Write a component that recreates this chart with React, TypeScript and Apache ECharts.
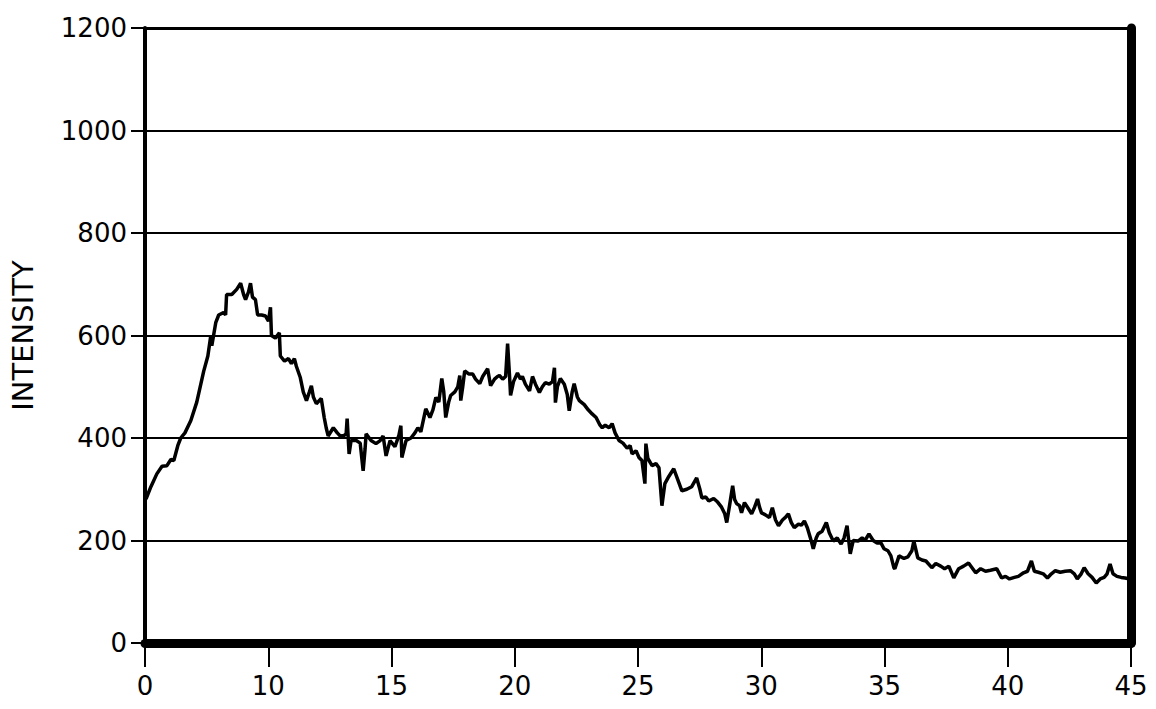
import React, { useEffect, useRef } from "react";
import * as echarts from "echarts";

const xTickLabels: string[] = ["0", "10", "15", "20", "25", "30", "35", "40", "45"];
const yTickValues: number[] = [0, 200, 400, 600, 800, 1000, 1200];

const twoTheta: number[] = [
  5.04, 5.24, 5.48, 5.69, 5.89, 6.05, 6.17, 6.33, 6.45, 6.62, 6.86, 7.10, 7.38, 7.55, 7.67, 7.71, 7.87, 7.99,
  8.19, 8.27, 8.31, 8.52, 8.72, 8.88, 9.00, 9.08, 9.20, 9.28, 9.36, 9.48, 9.57, 9.73, 9.89, 10.01, 10.09, 10.13,
  10.29, 10.45, 10.49, 10.66, 10.82, 10.94, 11.06, 11.14, 11.30, 11.42, 11.55, 11.67, 11.75, 11.83, 11.95, 12.15,
  12.27, 12.35, 12.43, 12.64, 12.80, 12.92, 13.08, 13.16, 13.20, 13.28, 13.36, 13.57, 13.73, 13.85, 13.93, 13.97,
  14.17, 14.37, 14.54, 14.66, 14.78, 14.94, 15.14, 15.30, 15.38, 15.42, 15.59, 15.79, 15.95, 16.07, 16.19, 16.39,
  16.56, 16.68, 16.80, 16.92, 17.04, 17.12, 17.20, 17.32, 17.40, 17.57, 17.69, 17.77, 17.81, 17.89, 17.97, 18.13,
  18.29, 18.41, 18.58, 18.70, 18.90, 19.02, 19.18, 19.30, 19.38, 19.51, 19.63, 19.71, 19.79, 19.83, 19.95, 20.11,
  20.23, 20.31, 20.43, 20.60, 20.72, 20.84, 21.00, 21.12, 21.24, 21.40, 21.53, 21.61, 21.65, 21.73, 21.85, 22.01,
  22.13, 22.21, 22.33, 22.41, 22.54, 22.62, 22.82, 22.98, 23.14, 23.30, 23.46, 23.55, 23.67, 23.83, 23.95, 24.07,
  24.23, 24.39, 24.56, 24.68, 24.76, 24.92, 25.04, 25.16, 25.28, 25.32, 25.40, 25.57, 25.73, 25.85, 25.97, 26.09,
  26.25, 26.45, 26.62, 26.78, 26.98, 27.18, 27.38, 27.51, 27.59, 27.75, 27.87, 28.07, 28.23, 28.39, 28.52, 28.60,
  28.72, 28.84, 28.92, 29.00, 29.12, 29.20, 29.32, 29.48, 29.61, 29.73, 29.85, 29.93, 30.01, 30.17, 30.33, 30.45,
  30.58, 30.70, 30.86, 30.98, 31.10, 31.22, 31.34, 31.51, 31.63, 31.75, 31.87, 32.03, 32.11, 32.23, 32.31, 32.47,
  32.64, 32.76, 32.92, 33.08, 33.24, 33.36, 33.48, 33.61, 33.73, 33.93, 34.09, 34.21, 34.37, 34.54, 34.70, 34.86,
  34.98, 35.14, 35.26, 35.38, 35.42, 35.59, 35.79, 35.95, 36.11, 36.19, 36.35, 36.52, 36.68, 36.92, 37.08, 37.28,
  37.44, 37.61, 37.81, 38.01, 38.21, 38.41, 38.58, 38.70, 38.90, 39.10, 39.30, 39.55, 39.75, 39.91, 40.07, 40.27,
  40.43, 40.64, 40.80, 40.96, 41.08, 41.24, 41.44, 41.61, 41.77, 41.93, 42.13, 42.33, 42.54, 42.70, 42.82, 42.98,
  43.10, 43.26, 43.42, 43.59, 43.75, 43.91, 44.03, 44.15, 44.27, 44.43, 44.60, 44.76, 44.96,
];

const intensity: number[] = [
  281, 305, 330, 345, 346, 358, 356, 385, 400, 410, 434, 470, 530, 560, 600, 580, 625, 640,
  645, 640, 680, 680, 690, 702, 680, 670, 685, 702, 675, 670, 640, 640, 638, 628, 655, 600,
  595, 605, 560, 550, 555, 545, 555, 540, 518, 490, 473, 490, 502, 480, 467, 477,
  440, 420, 404, 420, 410, 404, 405, 408, 438, 369, 395, 395, 390, 336, 380, 408,
  395, 389, 395, 404, 365, 395, 383, 405, 424, 362, 395, 400, 410, 420, 412, 457,
  440, 455, 479, 470, 516, 490, 440, 470, 483, 490, 500, 522, 473, 500, 531, 525,
  525, 515, 506, 520, 535, 502, 515, 520, 522, 515, 520, 584, 520, 483, 510, 527,
  515, 520, 505, 492, 520, 505, 489, 500, 508, 505, 510, 537, 469, 500, 516, 505,
  485, 453, 490, 506, 480, 473, 465, 455, 447, 440, 425, 420, 425, 420, 428, 410,
  395, 390, 380, 385, 369, 375, 362, 356, 311, 389, 360, 346, 350, 342, 268, 311,
  325, 340, 318, 297, 300, 305, 322, 300, 283, 285, 277, 282, 275, 265, 252, 235,
  270, 307, 280, 272, 268, 254, 274, 262, 252, 265, 281, 265, 254, 250, 245, 264,
  240, 229, 240, 245, 252, 235, 225, 232, 230, 238, 225, 199, 184, 205, 213, 218,
  235, 215, 199, 205, 193, 205, 229, 174, 200, 199, 205, 200, 213, 200, 195, 195,
  184, 180, 170, 147, 145, 170, 165, 168, 180, 199, 166, 162, 160, 147, 155, 150,
  145, 150, 127, 145, 150, 156, 145, 137, 145, 140, 142, 145, 127, 130, 125, 128,
  130, 137, 140, 160, 140, 138, 135, 127, 135, 141, 138, 140, 141, 135, 125, 135,
  147, 135, 128, 117, 125, 128, 135, 154, 135, 130, 128, 127, 125,
];

const FONT = "DejaVu Sans";

export default function App() {
  const ref = useRef<HTMLDivElement>(null);
  useEffect(() => {
    document.body.style.margin = "0";
    if (!ref.current) return;
    const chart = echarts.init(ref.current, null, { renderer: "svg" });
    const data = twoTheta.map((x, i) => [x, intensity[i]]);
    chart.setOption({
      animation: false,
      backgroundColor: "#ffffff",
      grid: { left: 141, right: 25, top: 28, bottom: 66, containLabel: false },
      xAxis: [
        {
          type: "value",
          min: 5,
          max: 45,
          interval: 5,
          position: "bottom",
          axisLine: { show: true, onZero: false, lineStyle: { color: "#000", width: 9 } },
          axisTick: { show: true, length: 24, lineStyle: { color: "#000", width: 2 } },
          splitLine: { show: false },
          axisLabel: {
            margin: 30,
            color: "#000",
            fontFamily: FONT,
            fontSize: 26,
            formatter: (v: number) => xTickLabels[Math.round((v - 5) / 5)] ?? "",
          },
        },
        {
          type: "value",
          min: 5,
          max: 45,
          position: "top",
          axisLine: { show: true, onZero: false, lineStyle: { color: "#000", width: 3 } },
          axisTick: { show: false },
          axisLabel: { show: false },
          splitLine: { show: false },
        },
      ],
      yAxis: [
        {
          type: "value",
          min: 0,
          max: 1200,
          interval: 200,
          position: "left",
          name: "INTENSITY",
          nameLocation: "middle",
          nameRotate: 90,
          nameGap: 108,
          nameTextStyle: { color: "#000", fontFamily: FONT, fontSize: 29 },
          axisLine: { show: true, onZero: false, lineStyle: { color: "#000", width: 4 } },
          axisTick: { show: true, length: 14, lineStyle: { color: "#000", width: 2 } },
          splitLine: { show: true, lineStyle: { color: "#000", width: 2 } },
          axisLabel: {
            margin: 18,
            color: "#000",
            fontFamily: FONT,
            fontSize: 26,
            formatter: (v: number) => (yTickValues.includes(v) ? String(v) : ""),
          },
        },
        {
          type: "value",
          min: 0,
          max: 1200,
          position: "right",
          axisLine: { show: true, onZero: false, lineStyle: { color: "#000", width: 9 } },
          axisTick: { show: false },
          axisLabel: { show: false },
          splitLine: { show: false },
        },
      ],
      series: [
        {
          type: "line",
          data,
          xAxisIndex: 0,
          yAxisIndex: 0,
          showSymbol: false,
          lineStyle: { color: "#000", width: 3.5 },
          z: 3,
        },
      ],
    });
    return () => chart.dispose();
  }, []);
  return <div ref={ref} style={{ width: 1156, height: 709 }} />;
}
